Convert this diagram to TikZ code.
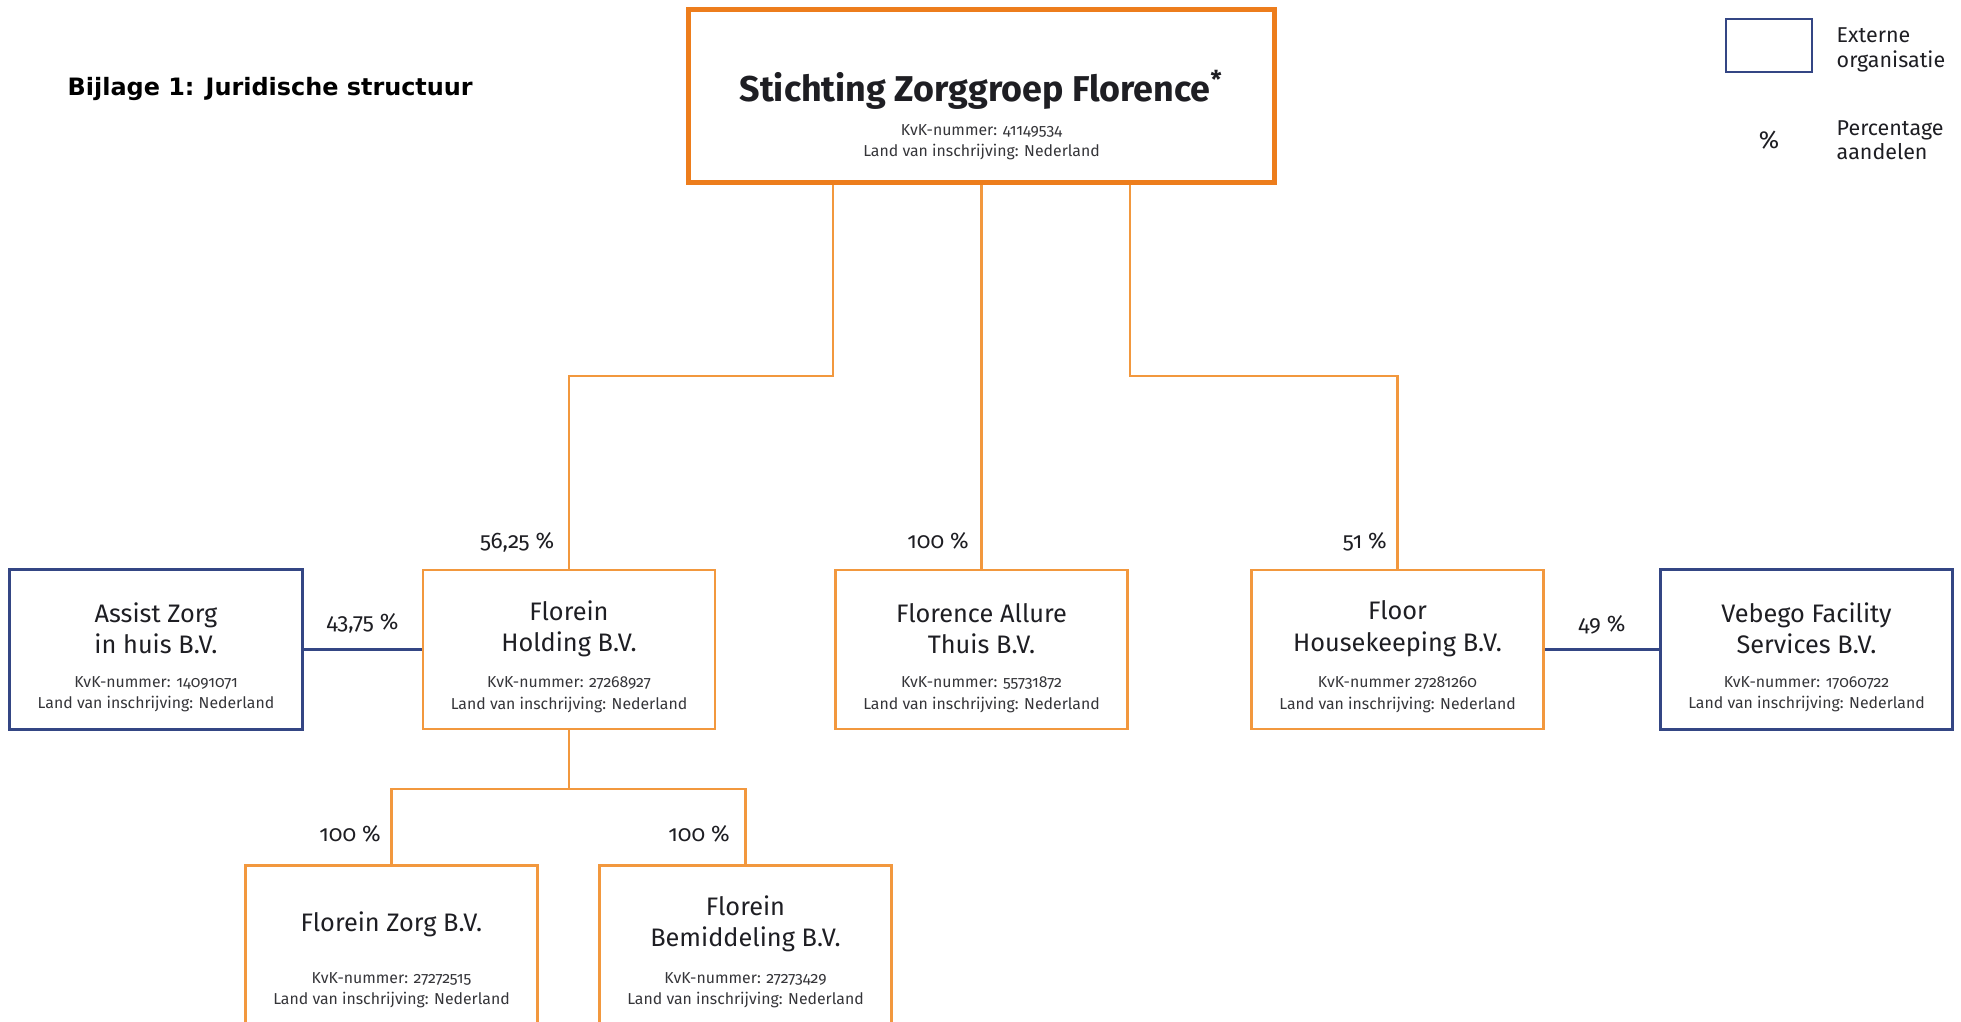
\documentclass[tikz,border=0pt]{standalone}
\usepackage{fontspec}
\setmainfont{Fira Sans}[Numbers=OldStyle]
\newfontfamily\headfont{DejaVu Sans}
\usetikzlibrary{positioning,calc}

\definecolor{florange}{RGB}{242,152,62}
\definecolor{topor}{RGB}{237,125,28}
\definecolor{extblue}{RGB}{52,70,132}
\definecolor{txt}{RGB}{30,30,35}

\tikzset{
  orgbox/.style={draw=florange, line width=0.75pt, minimum width=2.92cm, minimum height=1.59cm, inner sep=0pt},
  extbox/.style={orgbox, draw=extblue, line width=0.85pt},
  orgname/.style={font=\fontsize{7.2}{8.9}\selectfont, align=center, text=txt, inner sep=0pt},
  orgkvk/.style={font=\fontsize{4.5}{6}\selectfont, align=center, text=txt!90, inner sep=0pt},
  orgline/.style={draw=florange, line width=0.6pt},
  extline/.style={draw=extblue, line width=0.7pt},
  pct/.style={font=\fontsize{6.4}{7}\selectfont, text=txt, inner sep=0pt},
  legend/.style={font=\fontsize{6.1}{6.9}\selectfont, align=left, anchor=west, text=txt, inner sep=0pt},
}

\begin{document}
\begin{tikzpicture}[x=0.01cm, y=-0.01cm]
\useasboundingbox (0,0) rectangle (1961,1022);
\clip (0,0) rectangle (1961,1022);

% heading and legend
\node[font=\headfont\bfseries\fontsize{6.8}{8}\selectfont, anchor=west, inner sep=0pt, text=black] (heading) at (67,89) {Bijlage 1: Juridische structuur};
\node[draw=extblue, line width=0.8pt, minimum width=0.86cm, minimum height=0.53cm] (leg-box) at (1769,45.5) {};
\node[legend] (leg-ext) at (1836,50) {Externe\\organisatie};
\node[font=\fontsize{7}{7}\selectfont, text=txt, inner sep=0pt] (leg-pct) at (1769,140) {\%};
\node[legend] (leg-pct-txt) at (1836,140) {Percentage\\aandelen};

% top
\node[draw=topor, line width=1.4pt, minimum width=5.85cm, minimum height=1.72cm] (stich) at (981.5,96) {};
\node[font=\bfseries\fontsize{10.2}{12}\selectfont, text=txt, inner sep=0pt] (stich-name) at ([yshift=-0.82cm]stich.north) {Stichting Zorggroep Florence\textsuperscript{\scriptsize*}};
\node[orgkvk] (stich-kvk) at ([yshift=-1.35cm]stich.north) {KvK-nummer: 41149534\\Land van inschrijving: Nederland};

% middle row
\node[extbox] (assist) at (156,649.5) {};
\node[orgbox] (holding) at (569,649.5) {};
\node[orgbox] (allure) at (981.5,649.5) {};
\node[orgbox] (floor) at (1397.5,649.5) {};
\node[extbox] (vebego) at (1806.5,649.5) {};

% bottom row
\node[orgbox, anchor=north, minimum height=1.8cm] (zorg) at (391.5,864) {};
\node[orgbox, anchor=north, minimum height=1.8cm] (bemid) at (745.5,864) {};

\foreach \b/\n/\k in {assist/{Assist Zorg\\in huis B.V.}/{KvK-nummer: 14091071},
                      holding/{Florein\\Holding B.V.}/{KvK-nummer: 27268927},
                      allure/{Florence Allure\\Thuis B.V.}/{KvK-nummer: 55731872},
                      floor/{Floor\\Housekeeping B.V.}/{KvK-nummer 27281260},
                      vebego/{Vebego Facility\\Services B.V.}/{KvK-nummer: 17060722},
                      zorg/{Florein Zorg B.V.}/{KvK-nummer: 27272515},
                      bemid/{Florein\\Bemiddeling B.V.}/{KvK-nummer: 27273429}}{
  \node[orgname] (\b-name) at ([yshift=-0.60cm]\b.north) {\n};
  \node[orgkvk] (\b-kvk) at ([yshift=-1.26cm]\b.north) {\k\\Land van inschrijving: Nederland};
}

% connectors
\coordinate (split) at (0,376);
\coordinate (split2) at (0,789);
\draw[orgline] ([xshift=-1.48cm]stich.south) |- (split -| holding.north) -- (holding.north);
\draw[orgline] (stich.south) -- (allure.north);
\draw[orgline] ([xshift=1.48cm]stich.south) |- (split -| floor.north) -- (floor.north);
\draw[orgline] (holding.south) -- (holding.south |- split2);
\draw[orgline] (zorg.north) |- (split2 -| bemid.north) -- (bemid.north);
\draw[extline] (assist.east) -- node[pct, above=0.15cm] (p-assist) {43,75~\%} (holding.west);
\draw[extline] (floor.east) -- node[pct, above=0.14cm] (p-vebego) {49~\%} (vebego.west);

% percentages
\node[pct, anchor=base east] (p-holding) at ([xshift=-0.14cm, yshift=0.2cm]holding.north) {56,25~\%};
\node[pct, anchor=base east] (p-allure) at ([xshift=-0.12cm, yshift=0.2cm]allure.north) {100~\%};
\node[pct, anchor=base east] (p-floor) at ([xshift=-0.1cm, yshift=0.2cm]floor.north) {51~\%};
\node[pct, anchor=base east] (p-zorg) at ([xshift=-0.1cm, yshift=0.22cm]zorg.north) {100~\%};
\node[pct, anchor=base east] (p-bemid) at ([xshift=-0.15cm, yshift=0.22cm]bemid.north) {100~\%};
\end{tikzpicture}
\end{document}
